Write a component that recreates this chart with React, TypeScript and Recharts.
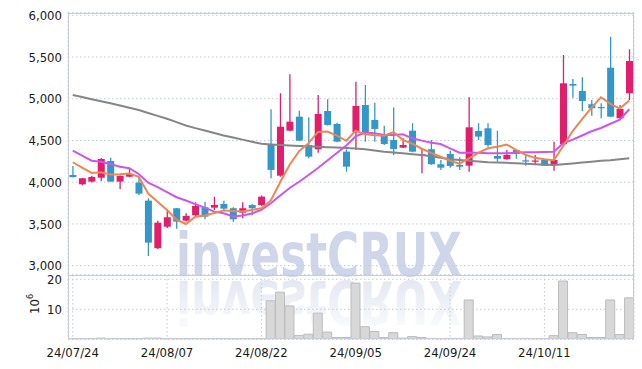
import { ComposedChart, Bar, Line, XAxis, YAxis, CartesianGrid } from 'recharts'

const dates = [
  '24/07/24', '24/07/25', '24/07/26', '24/07/29', '24/07/30', '24/07/31', '24/08/01', '24/08/02', '24/08/05', '24/08/06',
  '24/08/07', '24/08/08', '24/08/09', '24/08/12', '24/08/13', '24/08/14', '24/08/16', '24/08/19', '24/08/20', '24/08/21',
  '24/08/22', '24/08/23', '24/08/26', '24/08/27', '24/08/28', '24/08/29', '24/08/30', '24/09/02', '24/09/03', '24/09/04',
  '24/09/05', '24/09/06', '24/09/09', '24/09/10', '24/09/11', '24/09/12', '24/09/13', '24/09/19', '24/09/20', '24/09/23',
  '24/09/24', '24/09/25', '24/09/26', '24/09/27', '24/09/30', '24/10/02', '24/10/04', '24/10/07', '24/10/08', '24/10/10',
  '24/10/11', '24/10/14', '24/10/15', '24/10/16', '24/10/17', '24/10/18', '24/10/21', '24/10/22', '24/10/23', '24/10/24',
]
const xTicks = ['24/07/24', '24/08/07', '24/08/22', '24/09/05', '24/09/24', '24/10/11']
const priceTicks = [3000, 3500, 4000, 4500, 5000, 5500, 6000]
const volTicks = [10, 20]

const open = [
  4087, 3975, 4007, 4054, 4254, 4007, 4066, 3995, 3779, 3209,
  3467, 3688, 3539, 3604, 3700, 3695, 3739, 3688, 3635, 3727,
  3727, 4446, 4078, 4617, 4785, 4446, 4395, 4853, 4698, 4366,
  4598, 4925, 4746, 4574, 4506, 4414, 4617, 4320, 4395, 4215,
  4338, 4207, 4198, 4614, 4646, 4314, 4275, 4386, 4262, 4252,
  4266, 4218, 4455, 5177, 5093, 4934, 4900, 5372, 4766, 5066,
]
const close = [
  4060, 4047, 4063, 4278, 4007, 4075, 4099, 3863, 3276, 3515,
  3580, 3527, 3596, 3715, 3587, 3727, 3683, 3556, 3688, 3688,
  3827, 4147, 4665, 4725, 4498, 4306, 4818, 4686, 4486, 4186,
  4913, 4594, 4638, 4458, 4398, 4446, 4366, 4335, 4215, 4174,
  4195, 4186, 4658, 4546, 4446, 4282, 4326, 4338, 4255, 4260,
  4198, 4266, 5185, 5157, 4973, 4886, 4890, 4785, 4877, 5452,
]
const high = [
  4195, 4050, 4078, 4290, 4294, 4080, 4167, 4066, 3808, 3539,
  3655, 3690, 3628, 3760, 3767, 3827, 3779, 3700, 3760, 3739,
  3840, 4874, 5066, 5293, 4857, 4778, 5045, 4994, 4713, 4395,
  5205, 5165, 4953, 4677, 4896, 4526, 4706, 4407, 4506, 4266,
  4378, 4299, 5018, 4706, 4706, 4617, 4386, 4398, 4326, 4326,
  4270, 4486, 5524, 5237, 5257, 4985, 4946, 5744, 4926, 5593,
]
const low = [
  4060, 3963, 3995, 4015, 4005, 3919, 4060, 3847, 3116, 3200,
  3450, 3443, 3530, 3595, 3556, 3667, 3667, 3527, 3568, 3604,
  3715, 4047, 4066, 4610, 4495, 4287, 4354, 4680, 4480, 4126,
  4386, 4486, 4486, 4446, 4326, 4410, 4360, 4107, 4210, 4147,
  4174, 4147, 4126, 4506, 4426, 4246, 4270, 4282, 4198, 4210,
  4195, 4138, 4426, 5013, 4853, 4797, 4766, 4780, 4760, 4985,
]
const ma5 = [
  4239, 4174, 4111, 4119, 4091, 4094, 4104, 4064, 3864, 3766,
  3667, 3552, 3499, 3587, 3601, 3630, 3662, 3654, 3648, 3668,
  3688, 3781, 4003, 4210, 4372, 4468, 4602, 4607, 4559, 4496,
  4618, 4573, 4563, 4558, 4600, 4507, 4461, 4401, 4352, 4307,
  4257, 4221, 4286, 4352, 4406, 4424, 4452, 4388, 4329, 4292,
  4275, 4263, 4433, 4613, 4756, 4893, 5018, 4938, 4882, 4978,
]
const ma20 = [
  4378, 4318, 4258, 4246, 4219, 4186, 4167, 4099, 3995, 3940,
  3880, 3820, 3780, 3738, 3695, 3647, 3628, 3590, 3600, 3625,
  3670, 3748, 3840, 3930, 4005, 4087, 4170, 4260, 4350, 4440,
  4550, 4594, 4586, 4566, 4566, 4574, 4526, 4498, 4474, 4458,
  4406, 4354, 4354, 4354, 4346, 4346, 4346, 4354, 4358, 4360,
  4362, 4366, 4466, 4510, 4560, 4610, 4650, 4700, 4750, 4874,
]
const ma60 = [
  5045, 5020, 4995, 4970, 4945, 4918, 4892, 4865, 4830, 4795,
  4760, 4720, 4680, 4648, 4620, 4590, 4560, 4535, 4510, 4485,
  4460, 4452, 4446, 4440, 4434, 4430, 4425, 4420, 4415, 4410,
  4405, 4395, 4380, 4366, 4356, 4346, 4336, 4326, 4310, 4292,
  4275, 4265, 4256, 4248, 4240, 4236, 4232, 4228, 4222, 4216,
  4210, 4206, 4215, 4225, 4236, 4246, 4256, 4264, 4275, 4287,
]
// volume in millions
const volume = [
  0.05, 0.05, 0.05, 0.4, 0.05, 0.05, 0.05, 0.05, 0.4, 0.4,
  0.05, 0.05, 0.05, 0.05, 0.05, 0.05, 0.05, 0.05, 0.05, 0.05,
  0.05, 12.8, 15.7, 11.1, 1.3, 1.7, 8.7, 2.4, 0.6, 0.6,
  18.7, 4.2, 2.6, 0.6, 2.2, 0.4, 0.9, 0.6, 0.3, 0.1,
  0.3, 0.3, 13.1, 1.1, 0.8, 1.6, 0.3, 0.3, 0.3, 0.1,
  0.1, 1.2, 19.4, 2.2, 1.6, 0.6, 0.6, 13.1, 1.6, 13.8,
]

const rows = dates.map((date, i) => ({
  date,
  open: open[i],
  close: close[i],
  high: high[i],
  low: low[i],
  range: [low[i], high[i]],
  ma5: ma5[i],
  ma20: ma20[i],
  ma60: ma60[i],
  volume: volume[i],
}))

const UP = '#e31c6c'
const DOWN = '#3497c9'
const GRID = '#c3c8dc'
const FRAME = '#c9ccd6'
const FONT = "'DejaVu Sans Condensed', 'Liberation Sans Narrow', sans-serif"
const WM_FONT = "'DejaVu Sans', sans-serif"
const tickStyle = { fontSize: 13, fill: '#1a1a1a', fontFamily: FONT }

const Candle = (props: any) => {
  const { x, y, width, height, payload } = props
  if (!payload) return null
  const { open: o, close: c, high: h, low: l } = payload
  const color = c >= o ? UP : DOWN
  const k = h - l > 0 ? height / (h - l) : 0
  const top = y + (h - Math.max(o, c)) * k
  const bh = Math.max(1.2, Math.abs(o - c) * k)
  const cx = x + width / 2
  const bw = 7
  return (
    <g>
      <line x1={cx} x2={cx} y1={y} y2={y + height} stroke={color} strokeWidth={1.3} />
      <rect x={cx - bw / 2} y={top} width={bw} height={bh} fill={color} />
    </g>
  )
}

export default function App() {
  return (
    <div style={{ position: 'absolute', left: 0, top: 0, width: 642, height: 369, background: '#fff' }}>
      <svg width={642} height={369} style={{ position: 'absolute', left: 0, top: 0 }}>
        <defs>
          <linearGradient id="fade" x1="0" y1="0" x2="0" y2="1">
            <stop offset="0" stopColor="#dfe3ef" stopOpacity={0} />
            <stop offset="0.45" stopColor="#dfe3ef" stopOpacity={0.5} />
            <stop offset="1" stopColor="#dfe3ef" stopOpacity={1} />
          </linearGradient>
        </defs>
        <text x={176} y={276} fontSize={60} fontWeight="bold" fontFamily={WM_FONT}
          fill="#d0d6ea" textLength={286} lengthAdjust="spacingAndGlyphs">investCRUX</text>
        <g transform="translate(0,557) scale(1,-1)">
          <text x={176} y={276} fontSize={60} fontWeight="bold" fontFamily={WM_FONT}
            fill="url(#fade)" textLength={286} lengthAdjust="spacingAndGlyphs">investCRUX</text>
        </g>
      </svg>
      <div style={{ position: 'absolute', left: 0, top: 0 }}>
        <ComposedChart width={642} height={276} data={rows} margin={{ top: 12.7, right: 8, bottom: 1, left: 0 }}>
          <CartesianGrid stroke={GRID} strokeDasharray="1.5 2.5" />
          <XAxis dataKey="date" ticks={xTicks} interval={0} tick={false} axisLine={false} tickLine={false} height={0} />
          <YAxis domain={[2888, 6031]} ticks={priceTicks} width={68} axisLine={false} tickLine={false}
            tickSize={4} tickMargin={2} allowDataOverflow tick={tickStyle}
            tickFormatter={(v: number) => v.toLocaleString('en-US')} />
          <Bar dataKey="range" shape={<Candle />} isAnimationActive={false} />
          <Line dataKey="ma60" stroke="#868686" strokeWidth={2} dot={false} isAnimationActive={false} />
          <Line dataKey="ma20" stroke="#cc55ee" strokeWidth={2} dot={false} isAnimationActive={false} />
          <Line dataKey="ma5" stroke="#ef8550" strokeWidth={2} dot={false} isAnimationActive={false} />
        </ComposedChart>
      </div>
      <div style={{ position: 'absolute', left: 0, top: 0 }}>
        <ComposedChart width={642} height={369} data={rows} barCategoryGap={0} margin={{ top: 275, right: 8, bottom: 0, left: 0 }}>
          <CartesianGrid stroke={GRID} strokeDasharray="1.5 2.5" />
          <XAxis dataKey="date" ticks={xTicks} interval={0} height={29.7} axisLine={false} tickLine={false}
            tickSize={6} tickMargin={2} tick={tickStyle} />
          <YAxis domain={[0, 21.4]} ticks={volTicks} width={68} axisLine={false} tickLine={false}
            tickSize={4} tickMargin={2} allowDataOverflow tick={tickStyle} />
          <Bar dataKey="volume" fill="#d8d8d8" stroke="#bcbcbc" strokeWidth={1} isAnimationActive={false} />
        </ComposedChart>
      </div>
      <div style={{ position: 'absolute', left: 68, top: 12.7, width: 566, height: 262.3, boxSizing: 'border-box', border: `1px solid ${FRAME}`, borderBottom: 'none' }} />
      <div style={{ position: 'absolute', left: 68, top: 275, width: 566, height: 64.3, boxSizing: 'border-box', border: `1px solid ${FRAME}` }} />
      <svg width={60} height={369} style={{ position: 'absolute', left: 0, top: 0 }}>
        <text transform="translate(39,314) rotate(-90)" fontSize={13} fill="#222" fontFamily={FONT}>
          10<tspan dy={-6} fontSize={9}>6</tspan>
        </text>
      </svg>
    </div>
  )
}
